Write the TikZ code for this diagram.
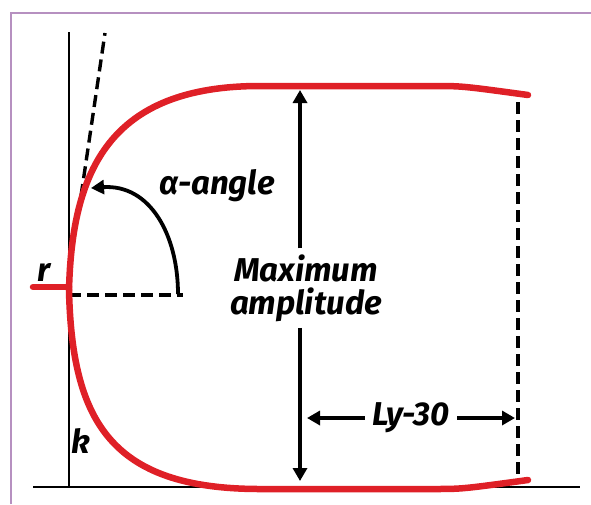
\documentclass[tikz,border=0pt]{standalone}
\usepackage{fontspec}
\setmainfont{Fira Sans}
\usepackage{tikz}
\usetikzlibrary{arrows.meta,positioning,calc}
\usepackage{xcolor}
\definecolor{Frame}{HTML}{B690C0}
\definecolor{Curve}{HTML}{DF2027}
\tikzset{
  redcurve/.style={draw=Curve, line width=6.5pt, line cap=round},
  axisln/.style={draw=black, line width=1.8pt},
  dashln/.style={draw=black, line width=3.4pt, dash pattern=on 12pt off 6pt},
  fatarr/.style={-{Triangle[length=13pt,width=14pt]}, line width=3.8pt},
  lbl/.style={font=\fontsize{33}{33}\selectfont\bfseries\itshape, inner sep=0pt},
}
\begin{document}
\begin{tikzpicture}[x=1pt, y=-1pt]
  \useasboundingbox (0,0) rectangle (591,504);
  % frame
  \draw[Frame, line width=1.3pt] (11,504) -- (11,13) -- (591,13);
  % axes
  \draw[axisln] (69,32) -- (69,487);
  \draw[axisln] (33,487) -- (580,487);
  % tangent and reference lines
  \draw[dashln] (81,196) -- (105,33);
  \draw[dashln] (69,295) -- (183,295);
  \draw[dashln] (518,102) -- (518,478);
  % profile
  \draw[redcurve] (33,287) -- (69,287);
  \draw[redcurve] (69,290) .. controls (72,170) and (110,86) .. (260,86)
    -- (433,86) .. controls (462,86) .. (528,95);
  \draw[redcurve] (69,290) .. controls (72,420) and (110,489) .. (260,489)
    -- (433,489) .. controls (462,489) .. (528,480);
  % labels
  \node[lbl] (r) at (44,272) {r};
  \node[lbl] (k) at (81,441) {k};
  \node[lbl] (alpha) at (217,186) {α-angle};
  \node[lbl, align=center, inner ysep=6pt] (amp) at (306,288) {Maximum\\amplitude};
  \node[lbl, inner xsep=7pt] (ly) at (411,418) {Ly-30};
  % arrow ends
  \coordinate (ampTop) at (300,90);
  \coordinate (ampBot) at (300,481);
  \coordinate (lyL) at (307,418);
  \coordinate (lyR) at (515,418);
  \coordinate (angS) at (91,188);
  \coordinate (angE) at (178,294);
  % arrows
  \draw[fatarr] (amp.north -| ampTop) -- (ampTop);
  \draw[fatarr] (amp.south -| ampBot) -- (ampBot);
  \draw[fatarr] (ly.west) -- (lyL);
  \draw[fatarr] (ly.east) -- (lyR);
  \draw[fatarr, {Triangle[length=13pt,width=14pt]}-] (angS) .. controls (150,184) and (178,235) .. (angE);
\end{tikzpicture}
\end{document}
